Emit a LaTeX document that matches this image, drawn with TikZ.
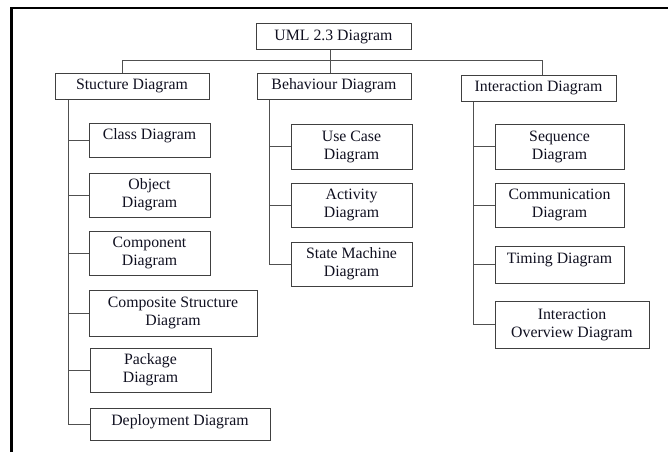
\documentclass[tikz,border=0pt]{standalone}
\usepackage{fontspec}
\setmainfont{Liberation Serif}
\usetikzlibrary{calc}
\definecolor{boxgray}{HTML}{404040}
\definecolor{linegray}{HTML}{505050}
\definecolor{txt}{HTML}{101020}
\begin{document}
\begin{tikzpicture}[x=1pt,y=-1pt,
  box/.style={draw=boxgray, line width=1pt, inner sep=0pt, align=center,
    text=txt, font=\fontsize{15.8}{18}\selectfont},
  sz/.style 2 args={minimum width=#1pt, minimum height=#2pt},
  conn/.style={draw=linegray, line width=1pt},
  frame/.style={draw=black, line width=2.8pt}]
\useasboundingbox (0,0) rectangle (668,452);
\draw[frame] (11.5,452) -- (11.5,8) -- (668,8);

% top level
\node[box, sz={155}{26}] (uml) at (333.5,37) {UML 2.3 Diagram};
\node[box, sz={154}{26}] (stru) at (132,86) {Stucture Diagram};
\node[box, sz={154}{26}] (beh) at (334,86) {Behaviour Diagram};
\node[box, sz={155}{26}] (inter) at (538.5,88) {Interaction Diagram};

% structure children
\node[box, sz={121}{34}, text depth=11pt] (class) at (149.5,140) {Class Diagram};
\node[box, sz={121}{44}] (object) at (149.5,195) {Object\\Diagram};
\node[box, sz={121}{44}] (component) at (149.5,253) {Component\\Diagram};
\node[box, sz={168}{46}] (composite) at (173,313) {Composite Structure\\Diagram};
\node[box, sz={121}{44}] (package) at (150.5,370) {Package\\Diagram};
\node[box, sz={180}{32}, text depth=8pt] (deploy) at (180,424) {Deployment Diagram};

% behaviour children
\node[box, sz={121}{45}] (usecase) at (351.5,146.5) {Use Case\\Diagram};
\node[box, sz={121}{44}] (activity) at (351.5,205) {Activity\\Diagram};
\node[box, sz={121}{44}] (state) at (351.5,264) {State Machine\\Diagram};

% interaction children
\node[box, sz={129}{45}] (seq) at (559.5,146.5) {Sequence\\Diagram};
\node[box, sz={129}{44}] (comm) at (559.5,205) {Communication\\Diagram};
\node[box, sz={129}{37}, text depth=12pt] (timing) at (559.5,264.5) {Timing Diagram};
\node[box, sz={154}{47}] (overview) at (572,324.5) {Interaction\\Overview Diagram};

% top connectors
\coordinate (bus) at ($(uml.south)+(0,10)$);
\draw[conn] ([xshift=-10]stru.north) |- (bus) -| ([xshift=3.5]inter.north);
\draw[conn] ([xshift=-3.5]uml.south) -- ([xshift=-3.5]uml.south |- beh.north);

% trunks
\coordinate (sT) at ($(stru.south west)+(14,0)$);
\coordinate (bT) at ($(beh.south west)+(13,0)$);
\coordinate (iT) at ($(inter.south west)+(13,0)$);

\foreach \c in {class,object,component,composite,package,deploy}
  \draw[conn] (sT) |- (\c.west);
\foreach \c in {usecase,activity,state}
  \draw[conn] (bT) |- (\c.west);
\foreach \c in {seq,comm,timing,overview}
  \draw[conn] (iT) |- (\c.west);
\end{tikzpicture}
\end{document}
